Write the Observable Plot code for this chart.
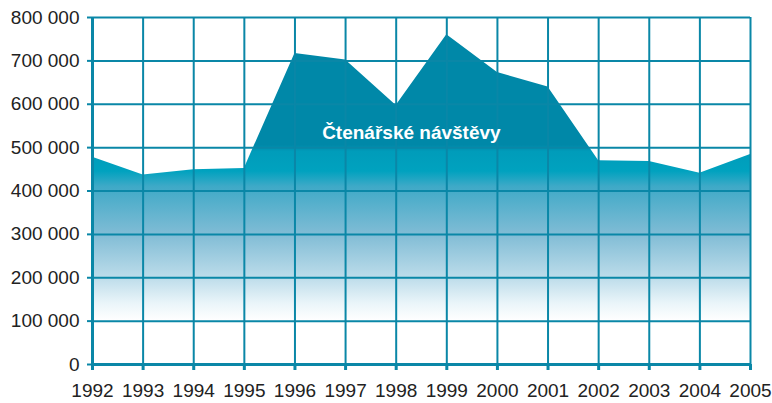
<!DOCTYPE html>
<html>
<head>
<meta charset="utf-8">
<script src="https://cdn.jsdelivr.net/npm/d3@7"></script>
<script src="https://cdn.jsdelivr.net/npm/@observablehq/plot@0.6"></script>
<style>
  html, body { margin: 0; padding: 0; background: #fff; }
  #chart svg { display: block; }
</style>
</head>
<body>
<div id="chart"></div>
<script>
const years = [1992, 1993, 1994, 1995, 1996, 1997, 1998, 1999, 2000, 2001, 2002, 2003, 2004, 2005];
const visits = [478000, 437000, 449000, 452000, 717000, 702000, 597000, 760000, 673000, 640000, 470000, 468000, 441000, 484000];
const yTicks = [0, 100000, 200000, 300000, 400000, 500000, 600000, 700000, 800000];
const seriesLabel = "Čtenářské návštěvy";

(function () {
const data = years.map((year, i) => ({ year, visits: visits[i] }));
const teal = "#0a87a7";
const fmt = d => d3.format(",")(d).replace(/,/g, " ");

const plot = Plot.plot({
  width: 772,
  height: 403,
  marginLeft: 92,
  marginRight: 22,
  marginTop: 17,
  marginBottom: 39,
  style: { fontFamily: "'Liberation Sans', Arial, sans-serif", fontSize: "19px", background: "#fff" },
  x: { domain: [1992, 2005], label: null },
  y: { domain: [0, 800000], label: null },
  marks: [
    Plot.areaY(data, { x: "year", y: "visits", fill: "url(#visitsGrad)" }),
    Plot.gridY(yTicks, { stroke: teal, strokeOpacity: 1, strokeWidth: 2 }),
    Plot.gridX(years, { stroke: teal, strokeOpacity: 1, strokeWidth: 2 }),
    Plot.ruleY([0], { stroke: teal, strokeWidth: 3 }),
    Plot.ruleX([1992], { stroke: teal, strokeWidth: 3 }),
    Plot.axisY(yTicks, { tickFormat: fmt, tickSize: 5, tickPadding: 8, stroke: teal, strokeWidth: 2, fill: "#222", fontSize: 19, label: null }),
    Plot.axisX(years, { tickFormat: d => String(d), tickSize: 6, tickPadding: 13, stroke: teal, strokeWidth: 3, fill: "#222", fontSize: 19, label: null }),
    Plot.text([seriesLabel], { x: () => 1998.3, y: () => 535000, text: d => d, fill: "white", fontWeight: "bold", fontSize: 19 })
  ]
});

const ys = plot.scale("y");
const yPos = v => ys.apply(v);
const svgNS = "http://www.w3.org/2000/svg";
const defs = document.createElementNS(svgNS, "defs");
const grad = document.createElementNS(svgNS, "linearGradient");
grad.setAttribute("id", "visitsGrad");
grad.setAttribute("gradientUnits", "userSpaceOnUse");
grad.setAttribute("x1", 0); grad.setAttribute("x2", 0);
const yTop = yPos(800000), yBot = yPos(100000), span = yBot - yTop;
grad.setAttribute("y1", yTop); grad.setAttribute("y2", yBot);
const stops = [
  [800000, "#0088a8"],
  [505000, "#0088a8"],
  [490000, "#009cba"],
  [445000, "#00a2bf"],
  [410000, "#3ea9c7"],
  [300000, "#80bcd5"],
  [200000, "#bcdcea"],
  [140000, "#eaf5f9"],
  [100000, "#ffffff"]
];
for (const [v, c] of stops) {
  const s = document.createElementNS(svgNS, "stop");
  s.setAttribute("offset", ((yPos(v) - yTop) / span).toFixed(4));
  s.setAttribute("stop-color", c);
  grad.appendChild(s);
}
defs.appendChild(grad);
plot.insertBefore(defs, plot.firstChild);

document.getElementById("chart").appendChild(plot);
})();
</script>
</body>
</html>
